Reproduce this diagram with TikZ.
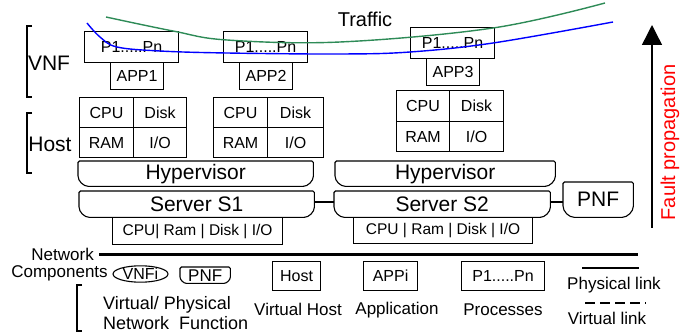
\documentclass[tikz,border=0pt]{standalone}
\usepackage{fontspec}
\setmainfont{Liberation Sans}
\usetikzlibrary{arrows.meta,shapes.geometric}
\newcommand\fsz[1]{\fontsize{#1}{#1}\selectfont}
\newcommand\rbbox[2]{%
  \draw[boxline, rounded corners=1.5pt] (#1.north west) -- (#1.north east) -- ([yshift=#2]#1.south east)
    arc[start angle=0,end angle=-90,radius=#2] -- ([xshift=#2]#1.south west)
    arc[start angle=270,end angle=180,radius=#2] -- cycle;}
\tikzset{
  boxline/.style={line width=1.1pt},
  box/.style={draw, boxline, anchor=north west, inner sep=0pt, font=\fsz{16}},
  cell/.style={box, font=\fsz{16}},
  shapebox/.style={anchor=north west, inner sep=0pt, font=\fsz{21}},
  lbl/.style={inner sep=0pt},
  brk/.style={line width=1.1pt},
}
\begin{document}
\begin{tikzpicture}[x=1pt,y=1pt]
\useasboundingbox (0,0) rectangle (681,335);

% labels
\node[lbl, font=\fsz{20}] (traffic) at (365,316) {Traffic};
\node[lbl, font=\fsz{21}] (vnf) at (49,272) {VNF};
\node[lbl, font=\fsz{21}] (host) at (50,191) {Host};
\draw[brk] (32,309) -- (27,309) -- (27,238) -- (32,238);
\draw[brk] (32,222) -- (27,222) -- (27,162) -- (32,162);

% VNF 1
\node[box, minimum width=94pt, minimum height=31pt] (p1) at (84,304) {P1.....Pn};
\node[box, minimum width=53pt, minimum height=27pt] (a1) at (110,273) {APP1};
\node[cell, minimum width=54pt, minimum height=30pt] (cpu1) at (79,238) {CPU};
\node[cell, minimum width=53pt, minimum height=30pt] (disk1) at (133,238) {Disk};
\node[cell, minimum width=54pt, minimum height=30pt] (ram1) at (79,208) {RAM};
\node[cell, minimum width=53pt, minimum height=30pt] (io1) at (133,208) {I/O};

% VNF 2
\node[box, minimum width=84pt, minimum height=31pt] (p2) at (223,304) {P1.....Pn};
\node[box, minimum width=53pt, minimum height=27pt] (a2) at (239,273) {APP2};
\node[cell, minimum width=54pt, minimum height=30pt] (cpu2) at (213,238) {CPU};
\node[cell, minimum width=56pt, minimum height=30pt] (disk2) at (267,238) {Disk};
\node[cell, minimum width=54pt, minimum height=30pt] (ram2) at (213,208) {RAM};
\node[cell, minimum width=56pt, minimum height=30pt] (io2) at (267,208) {I/O};

% VNF 3
\node[box, minimum width=84pt, minimum height=31pt] (p3) at (410,308) {P1.....Pn};
\node[box, minimum width=53pt, minimum height=27pt] (a3) at (426,277) {APP3};
\node[cell, minimum width=53pt, minimum height=31pt] (cpu3) at (396,245) {CPU};
\node[cell, minimum width=54pt, minimum height=31pt] (disk3) at (449,245) {Disk};
\node[cell, minimum width=53pt, minimum height=30pt] (ram3) at (396,214) {RAM};
\node[cell, minimum width=54pt, minimum height=30pt] (io3) at (449,214) {I/O};

% Hypervisors and servers
\node[shapebox, minimum width=235pt, minimum height=25pt] (hv1) at (78,174) {Hypervisor};
\rbbox{hv1}{12pt}
\node[shapebox, minimum width=235pt, minimum height=26pt] (s1) at (79,144) {Server S1};
\rbbox{s1}{12pt}
\node[box, minimum width=170pt, minimum height=27pt, font=\fsz{15.5}] (c1) at (112,118) {CPU| Ram | Disk | I/O};
\node[shapebox, minimum width=220pt, minimum height=25pt] (hv2) at (335,174) {Hypervisor};
\rbbox{hv2}{12pt}
\node[shapebox, minimum width=216pt, minimum height=26pt] (s2) at (334,144) {Server S2};
\rbbox{s2}{12pt}
\node[box, minimum width=179pt, minimum height=26pt, font=\fsz{15.5}] (c2) at (353,118) {CPU | Ram | Disk | I/O};
\node[shapebox, minimum width=70pt, minimum height=35pt] (pnf) at (563,153) {PNF};
\rbbox{pnf}{13pt}
\draw[boxline] (s1.east |- 0,133) -- (s2.west |- 0,133);
\draw[boxline] (s2.east |- 0,133) -- (pnf.west |- 0,133);

% Fault propagation
\coordinate (fbot) at (652,107);
\coordinate (ftop) at (652,310);
\draw[line width=1.4pt, -{Triangle[length=20pt,width=20pt]}] (fbot) -- (ftop);
\node[lbl, font=\fsz{20}, text=red, rotate=90] (fault) at (670,192.5) {Fault propagation};

% Network line and legend
\node[lbl, font=\fsz{17}, anchor=east] (net) at (94,81) {Network};
\coordinate (netend) at (638,80);
\draw[line width=3pt] (net.east |- 0,80) ++(5,0) -- (netend);
\node[lbl, font=\fsz{17}] (comp) at (59.5,62) {Components};
\node[draw, boxline, ellipse, minimum width=55pt, minimum height=15pt, inner sep=0pt, font=\fsz{16}] (vnfi) at (140.5,61) {VNFi};
\node[anchor=north west, inner sep=0pt, minimum width=50pt, minimum height=16pt, font=\fsz{17}] (lpnf) at (180,68) {PNF};
\rbbox{lpnf}{8pt}
\draw[brk] (82,50) -- (77,50) -- (77,4) -- (82,4);
\node[lbl, font=\fsz{18}, anchor=west, align=left] (vp) at (103,22) {Virtual/ Physical\\[2pt]Network\ \ Function};

\node[box, minimum width=48pt, minimum height=29pt] (lhost) at (272,74) {Host};
\node[lbl, font=\fsz{17}] (vhost) at (298,26) {Virtual Host};
\node[box, minimum width=54pt, minimum height=29pt] (lapp) at (363,74) {APPi};
\node[lbl, font=\fsz{17}] (appl) at (397,25) {Application};
\node[box, minimum width=83pt, minimum height=29pt] (lproc) at (461,74) {P1.....Pn};
\node[lbl, font=\fsz{17}] (proc) at (503,25) {Processes};

\coordinate (pl1) at (582,67);
\coordinate (pl2) at (639,67);
\draw[boxline] (pl1) -- (pl2);
\node[lbl, font=\fsz{17}] (plink) at (614,50) {Physical link};
\coordinate (vl1) at (585,32);
\coordinate (vl2) at (646,32);
\draw[boxline, dash pattern=on 10pt off 5pt] (vl1) -- (vl2);
\node[lbl, font=\fsz{17}] (vlink) at (607,17) {Virtual link};

% Traffic curves
\definecolor{trgreen}{RGB}{46,139,87}
\draw[trgreen, line width=1.4pt] plot[smooth, tension=0.6] coordinates {(106,318) (173,304) (227,295) (340,293) (493,307) (605,332)};
\draw[blue, line width=1.4pt] plot[smooth, tension=0.6] coordinates {(87,312) (100,298) (117,288) (160,284) (227,282) (340,281) (410,283) (493,292) (613,313)};
\end{tikzpicture}
\end{document}
